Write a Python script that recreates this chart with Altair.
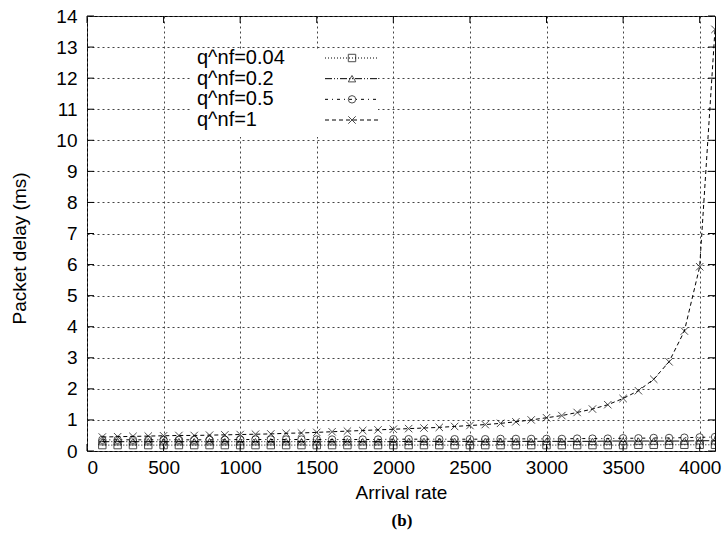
import altair as alt
import pandas as pd

# ---- data ----
arrival = [100, 200, 300, 400, 500, 600, 700, 800, 900, 1000,
           1100, 1200, 1300, 1400, 1500, 1600, 1700, 1800, 1900, 2000,
           2100, 2200, 2300, 2400, 2500, 2600, 2700, 2800, 2900, 3000,
           3100, 3200, 3300, 3400, 3500, 3600, 3700, 3800, 3900, 4000, 4100]

q_004 = [0.19, 0.19, 0.19, 0.19, 0.19, 0.19, 0.19, 0.19, 0.19, 0.19,
         0.19, 0.19, 0.19, 0.19, 0.19, 0.19, 0.19, 0.19, 0.19, 0.19,
         0.19, 0.19, 0.19, 0.19, 0.19, 0.19, 0.19, 0.19, 0.19, 0.19,
         0.19, 0.19, 0.19, 0.19, 0.19, 0.2, 0.2, 0.2, 0.2, 0.2, 0.2]

q_02 = [0.3, 0.3, 0.3, 0.3, 0.3, 0.3, 0.3, 0.3, 0.3, 0.3,
        0.3, 0.3, 0.3, 0.3, 0.3, 0.3, 0.3, 0.3, 0.3, 0.3,
        0.31, 0.31, 0.31, 0.31, 0.31, 0.31, 0.31, 0.31, 0.31, 0.31,
        0.31, 0.31, 0.31, 0.32, 0.32, 0.32, 0.32, 0.32, 0.32, 0.33, 0.33]

q_05 = [0.36, 0.36, 0.36, 0.36, 0.36, 0.36, 0.36, 0.36, 0.36, 0.37,
        0.37, 0.37, 0.37, 0.37, 0.37, 0.37, 0.37, 0.37, 0.37, 0.38,
        0.38, 0.38, 0.38, 0.38, 0.38, 0.38, 0.39, 0.39, 0.39, 0.39,
        0.39, 0.4, 0.4, 0.4, 0.41, 0.41, 0.42, 0.42, 0.43, 0.44, 0.45]

q_1 = [0.45, 0.46, 0.47, 0.48, 0.49, 0.5, 0.5, 0.51, 0.52, 0.53,
       0.54, 0.55, 0.57, 0.58, 0.6, 0.62, 0.64, 0.66, 0.68, 0.7,
       0.72, 0.74, 0.76, 0.79, 0.82, 0.85, 0.89, 0.94, 1.0, 1.07,
       1.14, 1.24, 1.35, 1.49, 1.69, 1.94, 2.31, 2.87, 3.86, 5.93, 13.57]

series = ["q^nf=0.04", "q^nf=0.2", "q^nf=0.5", "q^nf=1"]
values = [q_004, q_02, q_05, q_1]

x_ticks = [0, 500, 1000, 1500, 2000, 2500, 3000, 3500, 4000]
y_ticks = [0, 1, 2, 3, 4, 5, 6, 7, 8, 9, 10, 11, 12, 13, 14]

# ---- tables ----
rows = []
for name, vals in zip(series, values):
    for xv, yv in zip(arrival, vals):
        rows.append({"series": name, "rate": xv, "delay": yv})
df = pd.DataFrame(rows)
legend_df = pd.DataFrame({"series": series, "row": list(range(len(series)))})
xt = pd.DataFrame({"rate": x_ticks})
yt = pd.DataFrame({"delay": y_ticks})

W, H = 628, 435
FONT = "Liberation Sans"
FS = 19
LFS = 20
MS = 55

dash_scale = alt.Scale(domain=series, range=[[1, 2], [7, 2, 1, 2, 1, 2], [3, 4, 1, 4], [4, 3]])
X_PATH = "M-1,-1L1,1M-1,1L1,-1"
shape_scale = alt.Scale(domain=series, range=["square", "triangle-up", "circle", X_PATH])
x_scale = alt.Scale(domain=[0, 4100], nice=False, zero=False)
y_scale = alt.Scale(domain=[0, 14], nice=False)

X_AX = alt.Axis(values=x_ticks, title="Arrival rate", titleX=314, titleY=41,
                titleBaseline="middle", labelPadding=7, format="d")
Y_AX = alt.Axis(values=y_ticks, title="Packet delay (ms)", titleX=-68, titleY=232,
                titleBaseline="middle", titleAlign="center", labelPadding=10)
XE = alt.X("rate:Q", scale=x_scale, axis=X_AX)
YE = alt.Y("delay:Q", scale=y_scale, axis=Y_AX)

base = alt.Chart(df)

lines = base.mark_line(color="black", strokeWidth=1, clip=True).encode(
    x=XE, y=YE,
    strokeDash=alt.StrokeDash("series:N", scale=dash_scale, legend=None),
    detail="series:N",
)

points = base.mark_point(color="black", filled=False, strokeWidth=1, size=MS, clip=True).encode(
    x=XE, y=YE,
    shape=alt.Shape("series:N", scale=shape_scale, legend=None),
)

# inward ticks, mirrored
TK = 7
tick_l = alt.Chart(yt).mark_rule(color="black").encode(y=YE, x=alt.value(0), x2=alt.value(TK))
tick_r = alt.Chart(yt).mark_rule(color="black").encode(y=YE, x=alt.value(W - TK), x2=alt.value(W))
tick_b = alt.Chart(xt).mark_rule(color="black").encode(x=XE, y=alt.value(H - TK), y2=alt.value(H))
tick_t = alt.Chart(xt).mark_rule(color="black").encode(x=XE, y=alt.value(0), y2=alt.value(TK))

# legend box (white, hides grid)
leg_box = alt.Chart(legend_df.head(1)).mark_rect(color="white").encode(
    x=alt.value(105), x2=alt.value(291), y=alt.value(33), y2=alt.value(121)
)

main = alt.layer(lines, tick_l, tick_r, tick_b, tick_t, leg_box, points)

leg_y = alt.Y("row:Q", scale=alt.Scale(domain=[0, 3], range=[42, 104], nice=False, zero=False), axis=None)
leg_text = alt.Chart(legend_df).mark_text(align="left", baseline="middle", font=FONT,
                                          fontSize=LFS, color="black").encode(
    x=alt.value(110), y=leg_y, text="series:N"
)
leg_line = alt.Chart(legend_df).mark_rule(color="black", strokeWidth=1).encode(
    x=alt.value(238), x2=alt.value(292), y=leg_y,
    strokeDash=alt.StrokeDash("series:N", scale=dash_scale, legend=None),
)
leg_pt = alt.Chart(legend_df).mark_point(color="black", filled=False, strokeWidth=1, size=MS).encode(
    x=alt.value(265), y=leg_y,
    shape=alt.Shape("series:N", scale=shape_scale, legend=None),
)
caption = alt.Chart(pd.DataFrame({"t": ["(b)"]})).mark_text(
    font="Liberation Serif", fontWeight="bold", fontSize=17, color="black",
    align="center", baseline="middle").encode(
    text="t:N", x=alt.value(315), y=alt.value(521 - 16)
)
legend = alt.layer(leg_line, leg_pt, leg_text, caption)

chart = alt.layer(main, legend).resolve_scale(y="independent").properties(
    width=W, height=H,
    autosize=alt.AutoSizeParams(type="none"),
    padding={"left": 87, "top": 16, "right": 9, "bottom": 99},
    background="white",
).configure_view(
    stroke="black", strokeWidth=1
).configure_axis(
    grid=True, gridDash=[2, 3], gridColor="#444", gridWidth=1,
    domain=False, ticks=False,
    labelFont=FONT, labelFontSize=FS, labelColor="black",
    titleFont=FONT, titleFontSize=FS, titleFontWeight="normal", titleColor="black",
)

chart.save("out.html", embed_options={"renderer": "svg", "actions": False})
